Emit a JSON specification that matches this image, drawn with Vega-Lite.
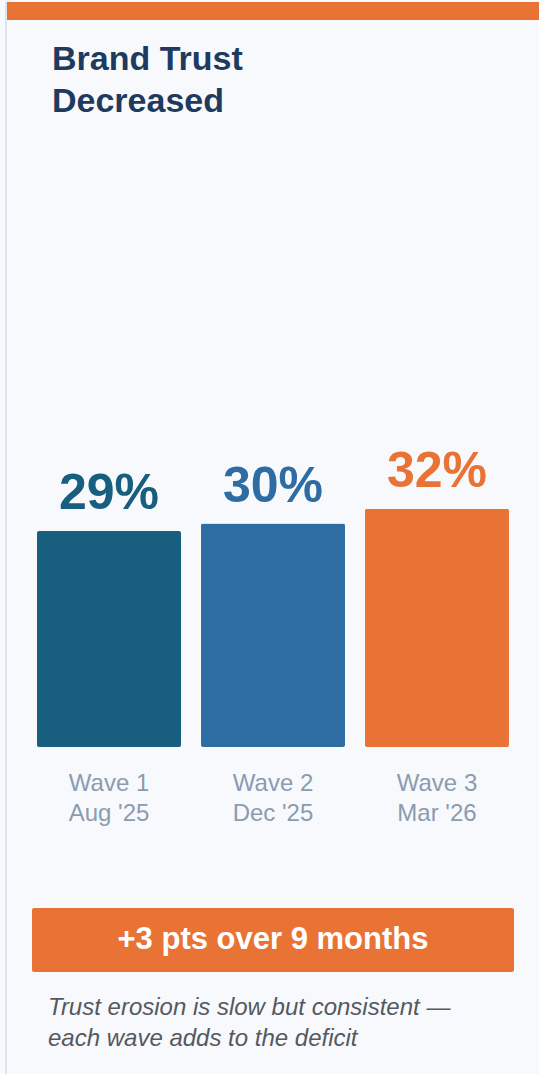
{
  "$schema": "https://vega.github.io/schema/vega-lite/v6.json",
  "background": "#F7F9FC",
  "padding": {"left": 5, "top": 2, "right": 0, "bottom": 0},
  "config": {"view": {"stroke": null}, "font": "Liberation Sans"},
  "datasets": {
    "waves": [
      {"period": "Wave 1|Aug '25", "pct": 29, "label": "29%"},
      {"period": "Wave 2|Dec '25", "pct": 30, "label": "30%"},
      {"period": "Wave 3|Mar '26", "pct": 32, "label": "32%"}
    ],
    "note": [{"text": "+3 pts over 9 months"}],
    "blank": [{"k": ""}]
  },
  "spacing": 0,
  "hconcat": [
    {
      "data": {"name": "blank"},
      "width": 2,
      "height": 1072,
      "view": {"fill": "#DCE5EF", "stroke": null},
      "mark": {"type": "text"},
      "encoding": {"text": {"field": "k"}}
    },
    {
      "spacing": 23,
      "vconcat": [
        {
          "data": {"name": "blank"},
          "width": 532,
          "height": 18,
          "view": {"fill": "#E97334", "stroke": null},
          "mark": {"type": "text"},
          "encoding": {"text": {"field": "k"}}
        },
        {
          "spacing": 83,
          "center": true,
          "vconcat": [
            {
              "data": {"name": "waves"},
              "width": 532,
              "height": 616,
              "title": {
                "text": ["Brand Trust", "Decreased"],
                "anchor": "start",
                "fontSize": 34,
                "fontWeight": "bold",
                "color": "#1F3A5F",
                "lineHeight": 42,
                "offset": 12,
                "dx": 45,
                "font": "Liberation Sans"
              },
              "encoding": {
                "x": {
                  "field": "period",
                  "type": "nominal",
                  "sort": null,
                  "scale": {"paddingInner": 0.122, "paddingOuter": 0.183},
                  "axis": {
                    "title": null,
                    "domain": false,
                    "ticks": false,
                    "labelAngle": 0,
                    "labelExpr": "split(datum.value, '|')",
                    "labelFont": "Liberation Sans",
                    "labelFontSize": 24,
                    "labelColor": "#8C9BB0",
                    "labelPadding": 24,
                    "labelLineHeight": 30
                  }
                },
                "y": {
                  "field": "pct",
                  "type": "quantitative",
                  "scale": {"domain": [0, 82.7]},
                  "axis": null
                },
                "color": {
                  "field": "period",
                  "type": "nominal",
                  "sort": null,
                  "scale": {"range": ["#185F7F", "#2E6DA4", "#E97334"]},
                  "legend": null
                }
              },
              "layer": [
                {"mark": {"type": "bar", "cornerRadius": 2}},
                {
                  "mark": {"type": "text", "dy": -22, "baseline": "alphabetic", "fontSize": 50, "fontWeight": "bold", "font": "Liberation Sans"},
                  "encoding": {"text": {"field": "label"}}
                }
              ]
            },
            {
              "data": {"name": "note"},
              "width": 482,
              "height": 64,
              "view": {"fill": "#E97334", "stroke": null, "cornerRadius": 2},
              "mark": {"type": "text", "fontSize": 31, "fontWeight": "bold", "color": "#FFFFFF", "baseline": "middle", "font": "Liberation Sans"},
              "encoding": {"text": {"field": "text"}},
              "title": {
                "text": ["Trust erosion is slow but consistent —", "each wave adds to the deficit"],
                "orient": "bottom",
                "anchor": "start",
                "fontSize": 24,
                "fontStyle": "italic",
                "fontWeight": "normal",
                "color": "#55595F",
                "lineHeight": 31,
                "dx": 16,
                "offset": 24,
                "font": "Liberation Sans"
              }
            }
          ]
        }
      ]
    }
  ]
}
